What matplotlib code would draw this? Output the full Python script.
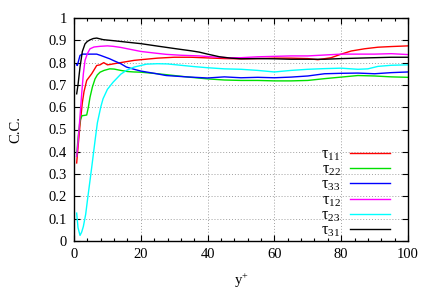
import matplotlib
matplotlib.use('Agg')
import matplotlib.pyplot as plt
from matplotlib.ticker import MultipleLocator

plt.rcParams['font.family'] = ['Liberation Serif', 'DejaVu Serif']
plt.rcParams['mathtext.fontset'] = 'custom'
plt.rcParams['mathtext.rm'] = 'Liberation Serif'
plt.rcParams['mathtext.it'] = 'Liberation Serif'
plt.rcParams['font.size'] = 10.5

# tau_11
x11 = [0.8, 1.2, 1.8, 2.5, 3, 3.8, 5.3, 6.8, 7.8, 8.9, 10, 11, 12, 14, 16, 18, 20, 25, 30, 35, 40,
       45, 50, 55, 60, 65, 70, 73, 77, 80, 83, 87, 91, 95, 100]
y11 = [0.35, 0.42, 0.52, 0.62, 0.67, 0.72, 0.75, 0.787, 0.79, 0.80, 0.79, 0.792, 0.795, 0.80, 0.805,
       0.81, 0.813, 0.82, 0.824, 0.824, 0.821, 0.818, 0.817, 0.818, 0.82, 0.82, 0.818, 0.813, 0.822,
       0.838, 0.852, 0.862, 0.869, 0.872, 0.875]
# tau_22
x22 = [0.8, 1.2, 1.8, 2.4, 3, 3.8, 4.3, 4.8, 5.5, 6.3, 7, 7.8, 9, 10.7, 12, 14, 16, 18, 20, 25, 30,
       35, 40, 45, 50, 55, 60, 65, 70, 75, 80, 85, 90, 95, 100]
y22 = [0.38, 0.46, 0.54, 0.562, 0.563, 0.565, 0.60, 0.645, 0.69, 0.727, 0.745, 0.757, 0.765, 0.772,
       0.771, 0.765, 0.76, 0.758, 0.757, 0.75, 0.742, 0.734, 0.727, 0.722, 0.72, 0.72, 0.718, 0.718,
       0.72, 0.728, 0.735, 0.742, 0.74, 0.736, 0.734]
# tau_33
x33 = [0.8, 1.0, 1.4, 1.8, 2.5, 4, 6.8, 8, 10.7, 12, 14, 15.7, 18, 20, 24, 27.6, 33.6, 40, 45, 50,
       55, 60, 65, 70, 75, 80, 85, 90, 95, 100]
y33 = [0.79, 0.787, 0.81, 0.832, 0.838, 0.838, 0.838, 0.832, 0.817, 0.808, 0.795, 0.78, 0.77, 0.762,
       0.752, 0.742, 0.736, 0.731, 0.736, 0.732, 0.734, 0.732, 0.735, 0.74, 0.75, 0.752, 0.753, 0.75,
       0.755, 0.758]
# tau_12
x12 = [0.8, 1.2, 1.8, 2.3, 2.8, 3.3, 4, 4.8, 6, 7.8, 10, 11.7, 14, 16, 18, 20, 24, 27.6, 32, 37.5,
       42, 46, 50, 55, 60, 65, 70, 75, 80, 85, 90, 95, 100]
y12 = [0.38, 0.44, 0.56, 0.66, 0.75, 0.81, 0.84, 0.862, 0.87, 0.873, 0.875, 0.873, 0.868, 0.862,
       0.856, 0.85, 0.843, 0.837, 0.833, 0.83, 0.825, 0.822, 0.822, 0.826, 0.828, 0.83, 0.83, 0.834,
       0.838, 0.838, 0.838, 0.84, 0.836]
# tau_23
x23 = [0.8, 1.2, 1.8, 2.3, 2.8, 3.5, 4, 5.3, 6.3, 7, 8, 8.7, 10, 11.7, 14, 15.7, 18, 20, 21.7, 25,
       28, 32, 36, 40, 45, 50, 55, 60, 65, 70, 75, 80, 85, 88, 91, 95, 100]
y23 = [0.125, 0.06, 0.025, 0.04, 0.065, 0.12, 0.18, 0.33, 0.45, 0.53, 0.60, 0.638, 0.68, 0.712,
       0.748, 0.765, 0.78, 0.787, 0.793, 0.795, 0.794, 0.788, 0.782, 0.777, 0.772, 0.77, 0.765, 0.758,
       0.765, 0.77, 0.773, 0.775, 0.77, 0.772, 0.783, 0.788, 0.79]
# tau_31
x31 = [0.8, 1.2, 1.8, 2.5, 3.3, 4, 4.8, 5.8, 6.8, 8.7, 10, 12, 15, 20, 25, 30.6, 35, 37.5, 40,
       43.6, 47, 50, 55, 60, 65, 70, 75, 80, 85, 90, 95, 100]
y31 = [0.66, 0.70, 0.78, 0.85, 0.884, 0.895, 0.902, 0.908, 0.91, 0.903, 0.901, 0.898, 0.893, 0.885,
       0.874, 0.862, 0.853, 0.847, 0.838, 0.826, 0.82, 0.817, 0.818, 0.817, 0.815, 0.815, 0.815, 0.818,
       0.82, 0.822, 0.824, 0.824]

series = [
    (x11, y11, 'τ$_{11}$', '#ff0000'),
    (x22, y22, 'τ$_{22}$', '#00e000'),
    (x33, y33, 'τ$_{33}$', '#0000ff'),
    (x12, y12, 'τ$_{12}$', '#ff00ff'),
    (x23, y23, 'τ$_{23}$', '#00ffff'),
    (x31, y31, 'τ$_{31}$', '#000000'),
]

fig = plt.figure(figsize=(4.36, 3.05), dpi=100)
ax = fig.add_axes([74 / 436, 64 / 305, 334 / 436, 223 / 305])

for x, y, lab, c in series:
    ax.plot(x, y, color=c, lw=1.0, label=lab)

ax.set_xlim(0, 100)
ax.set_ylim(0, 1)
ax.xaxis.set_major_locator(MultipleLocator(20))
ax.xaxis.set_minor_locator(MultipleLocator(4))
ax.set_yticks([0, 0.1, 0.2, 0.3, 0.4, 0.5, 0.6, 0.7, 0.8, 0.9, 1])
ax.set_yticklabels(['0', '0.1', '0.2', '0.3', '0.4', '0.5', '0.6', '0.7', '0.8', '0.9', '1'])
ax.tick_params(which='both', direction='in', top=True, right=True)
ax.tick_params(which='major', length=4.5, width=0.8, pad=5)
ax.tick_params(which='minor', length=2.5, width=0.8)
ax.grid(True, which='major', color='#a0a0a0', ls=(0, (1, 2)), lw=0.7)
for s in ax.spines.values():
    s.set_linewidth(1.0)

ax.set_xlabel('y$^{+}$', labelpad=8)
ax.set_ylabel('C.C.', labelpad=19)

ax.legend(loc='lower right', bbox_to_anchor=(0.975, -0.035), frameon=False, markerfirst=False,
          handlelength=2.5, handletextpad=0.6, labelspacing=-0.07, borderaxespad=0.2, fontsize=11.5)

fig.savefig('out.png', dpi=100)
